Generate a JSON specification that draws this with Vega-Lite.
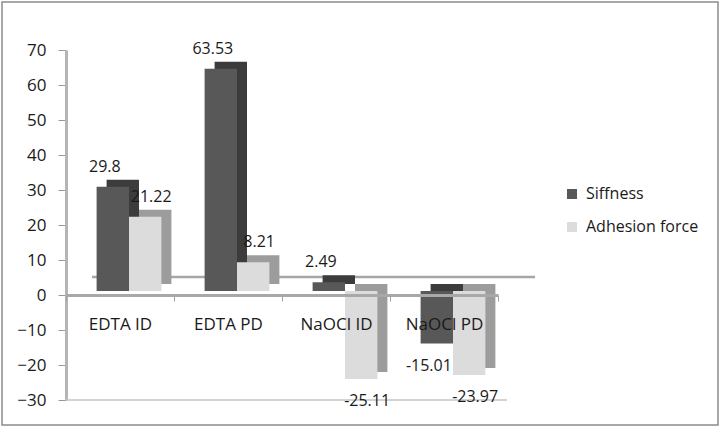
{
  "$schema": "https://vega.github.io/schema/vega-lite/v6.json",
  "width": 716,
  "height": 423,
  "autosize": {"type": "none"},
  "padding": 2,
  "background": "white",
  "config": {
    "font": "Open Sans",
    "view": {"stroke": "#8c8c8c", "strokeWidth": 1.5}
  },
  "data": {
    "values": [
      {"group": "EDTA ID", "series": "Siffness", "value": 29.8},
      {"group": "EDTA ID", "series": "Adhesion force", "value": 21.22},
      {"group": "EDTA PD", "series": "Siffness", "value": 63.53},
      {"group": "EDTA PD", "series": "Adhesion force", "value": 8.21},
      {"group": "NaOCl ID", "series": "Siffness", "value": 2.49},
      {"group": "NaOCl ID", "series": "Adhesion force", "value": -25.11},
      {"group": "NaOCl PD", "series": "Siffness", "value": -15.01},
      {"group": "NaOCl PD", "series": "Adhesion force", "value": -23.97}
    ]
  },
  "resolve": {"scale": {"xOffset": "independent"}},
  "encoding": {
    "x": {
      "field": "group", "type": "nominal", "sort": null,
      "scale": {"domain": ["EDTA ID", "EDTA PD", "NaOCl ID", "NaOCl PD"], "range": [64, 496], "paddingInner": 0, "paddingOuter": 0},
      "axis": {
        "orient": "bottom", "offset": -130, "title": null, "tickBand": "extent", "zindex": 1,
        "domainColor": "#a8a8a8", "domainWidth": 3, "tickColor": "#a0a0a0", "tickSize": 6,
        "labelFontSize": 17, "labelPadding": 15, "labelAngle": 0, "labelColor": "#1a1a1a", "grid": false
      }
    },
    "y": {
      "field": "value", "type": "quantitative",
      "scale": {"domain": [-30, 70], "range": [398, 48], "nice": false, "zero": false},
      "axis": {
        "orient": "left", "offset": -64, "values": [-30, -20, -10, 0, 10, 20, 30, 40, 50, 60, 70],
        "grid": false, "title": null, "domainColor": "#b5b5b5", "domainWidth": 3,
        "tickColor": "#9a9a9a", "tickSize": 8, "labelFontSize": 17, "labelPadding": 12, "labelColor": "#1a1a1a"
      }
    }
  },
  "layer": [
    {
      "transform": [{"filter": "datum.group == 'EDTA ID' && datum.series == 'Siffness'"}],
      "mark": {"type": "rule", "color": "#a6a6a6", "strokeWidth": 2.5, "xOffset": 26, "yOffset": -18, "x2Offset": 37},
      "encoding": {
        "x": {"datum": "EDTA ID", "bandPosition": 0},
        "x2": {"datum": "NaOCl PD", "bandPosition": 1},
        "y": {"datum": 0}
      }
    },
    {
      "transform": [{"filter": "datum.group == 'EDTA ID' && datum.series == 'Siffness'"}],
      "mark": {"type": "rule", "color": "#c4c4c4", "strokeWidth": 1.5, "x2Offset": 9},
      "encoding": {
        "x": {"datum": "EDTA ID", "bandPosition": 0},
        "x2": {"datum": "NaOCl PD", "bandPosition": 1},
        "y": {"datum": -30}
      }
    },
    {
      "transform": [{"filter": "datum.series == 'Siffness'"}],
      "mark": {"type": "bar", "color": "#3c3c3c", "yOffset": -11},
      "encoding": {
        "xOffset": {"field": "series", "type": "nominal", "scale": {"domain": ["Siffness", "Adhesion force"], "range": [19, 127], "paddingInner": 0, "paddingOuter": 0.667}}
      }
    },
    {
      "transform": [{"filter": "datum.series == 'Siffness'"}],
      "mark": {"type": "bar", "yOffset": -4},
      "encoding": {
        "xOffset": {"field": "series", "type": "nominal", "scale": {"domain": ["Siffness", "Adhesion force"], "range": [9, 117], "paddingInner": 0, "paddingOuter": 0.667}},
        "color": {
          "field": "series", "type": "nominal",
          "scale": {"domain": ["Siffness", "Adhesion force"], "range": ["#585858", "#dcdcdc"]},
          "legend": {
            "orient": "none", "legendX": 562, "legendY": 184, "title": null, "symbolType": "square",
            "symbolSize": 100, "symbolStrokeWidth": 0, "labelFontSize": 16, "labelColor": "#1a1a1a",
            "rowPadding": 17, "labelOffset": 6
          }
        }
      }
    },
    {
      "transform": [{"filter": "datum.series == 'Adhesion force'"}],
      "mark": {"type": "bar", "color": "#9c9c9c", "yOffset": -11},
      "encoding": {
        "xOffset": {"field": "series", "type": "nominal", "scale": {"domain": ["Siffness", "Adhesion force"], "range": [19, 127], "paddingInner": 0, "paddingOuter": 0.667}}
      }
    },
    {
      "transform": [{"filter": "datum.series == 'Adhesion force'"}],
      "mark": {"type": "bar", "yOffset": -4},
      "encoding": {
        "xOffset": {"field": "series", "type": "nominal", "scale": {"domain": ["Siffness", "Adhesion force"], "range": [9, 117], "paddingInner": 0, "paddingOuter": 0.667}},
        "color": {"field": "series", "type": "nominal"}
      }
    },
    {
      "transform": [{"filter": "datum.value > 0"}],
      "mark": {"type": "text", "fontSize": 16, "color": "#1a1a1a", "baseline": "middle", "dy": -24},
      "encoding": {
        "xOffset": {"field": "series", "type": "nominal", "scale": {"domain": ["Siffness", "Adhesion force"], "range": [8, 116], "paddingInner": 0, "paddingOuter": 0.667}},
        "text": {"field": "value", "type": "nominal"}
      }
    },
    {
      "transform": [{"filter": "datum.value < 0"}],
      "mark": {"type": "text", "fontSize": 16, "color": "#1a1a1a", "baseline": "middle", "dy": 18},
      "encoding": {
        "xOffset": {"field": "series", "type": "nominal", "scale": {"domain": ["Siffness", "Adhesion force"], "range": [8, 116], "paddingInner": 0, "paddingOuter": 0.667}},
        "text": {"field": "value", "type": "nominal"}
      }
    }
  ]
}
